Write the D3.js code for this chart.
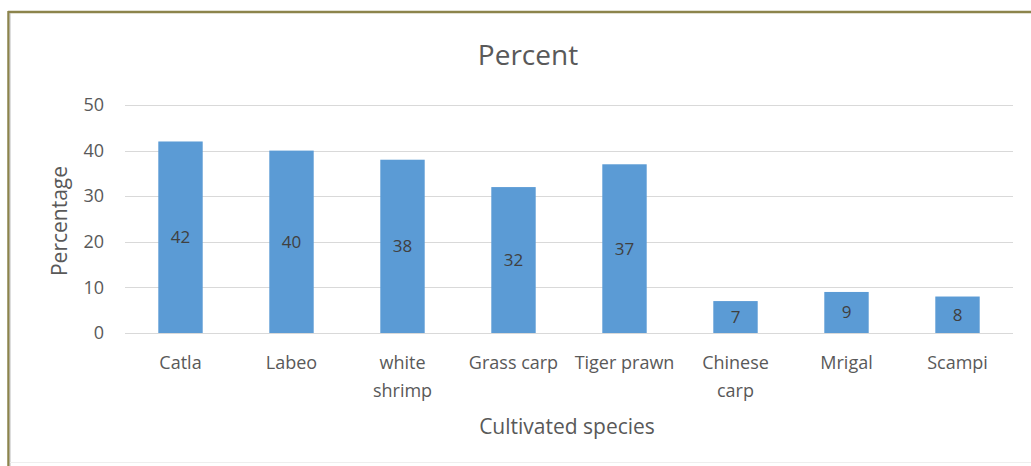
<!DOCTYPE html>
<html><head><meta charset="utf-8">
<script src="https://cdn.jsdelivr.net/npm/d3@7"></script>
<style>
html,body{margin:0;padding:0;background:#fff;}
text{font-family:"Open Sans","Noto Sans",sans-serif;}
</style></head>
<body><svg id="c" width="1031" height="466"></svg>
<script>
const categories = [["Catla"],["Labeo"],["white","shrimp"],["Grass carp"],["Tiger prawn"],["Chinese","carp"],["Mrigal"],["Scampi"]];
const values = [42,40,38,32,37,7,9,8];
const yTicks = [0,10,20,30,40,50];
const title = "Percent";
const xTitle = "Cultivated species";
const yTitle = "Percentage";

const svg = d3.select("#c");
// frame
svg.append("rect").attr("x",0).attr("y",0).attr("width",1031).attr("height",466).attr("fill","#fff");
svg.append("line").attr("x1",8).attr("x2",1031).attr("y1",12).attr("y2",12).attr("stroke","#8c844c").attr("stroke-width",2.5);
svg.append("line").attr("x1",8.5).attr("x2",8.5).attr("y1",11).attr("y2",466).attr("stroke","#8c844c").attr("stroke-width",2.5);
svg.append("line").attr("x1",10).attr("x2",10).attr("y1",13).attr("y2",466).attr("stroke","#bbb").attr("stroke-width",1);
svg.append("line").attr("x1",10).attr("x2",1031).attr("y1",462.5).attr("y2",462.5).attr("stroke","#eee").attr("stroke-width",1);

const x = d3.scaleBand().domain(categories.map(d=>d.join(" "))).range([125,1013]).paddingInner(0.6).paddingOuter(0.3);
const y = d3.scaleLinear().domain([0,50]).range([333,105]);

// grid
svg.append("g").selectAll("line").data(yTicks).join("line")
  .attr("x1",125).attr("x2",1013).attr("y1",d=>Math.round(y(d))+0.5).attr("y2",d=>Math.round(y(d))+0.5)
  .attr("stroke","#d9d9d9").attr("stroke-width",1);

// y axis labels
const yAxis = d3.axisLeft(y).tickValues(yTicks).tickSize(0).tickPadding(0);
const gy = svg.append("g").attr("transform","translate(104,0)").call(yAxis);
gy.select(".domain").remove();
gy.selectAll("text").attr("font-size",18).attr("fill","#595959").style("font-family","'Open Sans',sans-serif");

// bars
svg.append("g").selectAll("rect").data(values).join("rect")
  .attr("x",(d,i)=>x(categories[i].join(" ")))
  .attr("width",x.bandwidth())
  .attr("y",d=>y(d)).attr("height",d=>y(0)-y(d))
  .attr("fill","#5b9bd5");

// data labels
svg.append("g").selectAll("text").data(values).join("text")
  .attr("x",(d,i)=>x(categories[i].join(" "))+x.bandwidth()/2)
  .attr("y",d=>(y(d)+y(0))/2+6)
  .attr("text-anchor","middle").attr("font-size",17).attr("fill","#404040")
  .text(d=>d);

// x axis labels
const xl = svg.append("g").selectAll("text").data(categories).join("text")
  .attr("text-anchor","middle").attr("font-size",18).attr("fill","#595959")
  .attr("transform",d=>`translate(${x(d.join(" "))+x.bandwidth()/2},369)`);
xl.selectAll("tspan").data(d=>d).join("tspan").attr("x",0).attr("dy",(d,i)=>i?28:0).text(d=>d);

// titles
svg.append("text").attr("x",528).attr("y",65).attr("text-anchor","middle").attr("font-size",28).attr("fill","#595959").text(title);
svg.append("text").attr("x",567).attr("y",434).attr("text-anchor","middle").attr("font-size",21).attr("fill","#595959").text(xTitle);
svg.append("text").attr("transform","translate(67,221) rotate(-90)").attr("text-anchor","middle").attr("font-size",21).attr("fill","#595959").text(yTitle);
</script></body></html>
